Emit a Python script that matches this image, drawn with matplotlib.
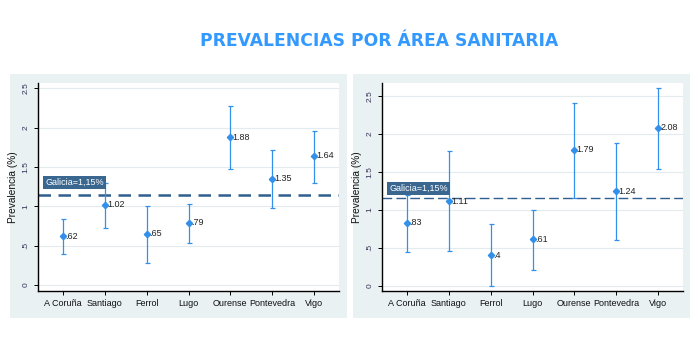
import matplotlib
matplotlib.use('Agg')
import matplotlib.pyplot as plt
from matplotlib.patches import Rectangle

areas = ['A Coruña', 'Santiago', 'Ferrol', 'Lugo', 'Ourense', 'Pontevedra', 'Vigo']

# panel izquierdo
prev1 = [0.62, 1.02, 0.65, 0.79, 1.88, 1.35, 1.64]
low1 = [0.40, 0.73, 0.28, 0.54, 1.48, 0.98, 1.29]
high1 = [0.84, 1.29, 1.00, 1.03, 2.27, 1.72, 1.96]

# panel derecho
prev2 = [0.83, 1.11, 0.40, 0.61, 1.79, 1.24, 2.08]
low2 = [0.44, 0.45, 0.00, 0.20, 1.16, 0.60, 1.54]
high2 = [1.19, 1.77, 0.81, 1.00, 2.41, 1.88, 2.60]

galicia = 1.15
yticks = [0, 0.5, 1, 1.5, 2, 2.5]
yticklabels = ['0', '.5', '1', '1.5', '2', '2.5']

W, H = 697, 338
blue = '#3390EA'
navy = '#2F5F8F'
bg = '#E9F1F3'

plt.rcParams['font.family'] = ['Liberation Sans', 'DejaVu Sans']

fig = plt.figure(figsize=(W / 100, H / 100), dpi=100)
fig.patch.set_facecolor('white')

# fondos grises de cada grafico
for x0, x1 in [(10, 347), (353, 690)]:
    fig.patches.append(Rectangle((x0 / W, 1 - 318 / H), (x1 - x0) / W, (318 - 74) / H,
                                 transform=fig.transFigure, facecolor=bg,
                                 edgecolor='none', zorder=-10))

fig.text(379 / W, 1 - 41 / H, 'PREVALENCIAS POR ÁREA SANITARIA', ha='center', va='center',
         fontsize=12.3, fontweight='bold', color='#3399FF', family='DejaVu Sans')


def fmt(v):
    s = '%g' % v
    if s.startswith('0.'):
        s = s[1:]
    return s


def panel(rect, prev, low, high, ylim, lw_line, dash, box_y):
    ax = fig.add_axes(rect)
    ax.set_zorder(1)
    ax.set_facecolor('white')
    x = list(range(1, len(areas) + 1))
    err = [[p - l for p, l in zip(prev, low)], [h - p for p, h in zip(prev, high)]]
    ax.errorbar(x, prev, yerr=err, fmt='D', color=blue, ms=3.2, elinewidth=0.9,
                capsize=1.8, capthick=0.9, zorder=3)
    for xi, p in zip(x, prev):
        ax.annotate(fmt(p), (xi, p), xytext=(1.8, 0), textcoords='offset points',
                    va='center', ha='left', fontsize=6.5, color='#222222', zorder=4)
    ax.axhline(galicia, color=navy, lw=lw_line, dashes=dash, zorder=2)
    ax.text(0.57, box_y, 'Galicia=1,15%', fontsize=6.5, color='white', va='center', ha='left',
            bbox=dict(boxstyle='square,pad=0.25', facecolor='#3A6790', edgecolor='none'),
            zorder=5)
    ax.set_xlim(0.4, 7.6)
    ax.set_ylim(*ylim)
    ax.set_xticks(x)
    ax.set_xticklabels(areas, fontsize=6.5, color='#111111')
    ax.set_yticks(yticks)
    ax.set_yticklabels(yticklabels, rotation=90, va='center', fontsize=6, color='#333355')
    ax.yaxis.grid(True, color='#E2EBEE', lw=0.8)
    ax.set_axisbelow(True)
    ax.tick_params(axis='both', length=3, width=0.7, pad=3)
    for s in ['top', 'right']:
        ax.spines[s].set_visible(False)
    for s in ['left', 'bottom']:
        ax.spines[s].set_linewidth(1.0)
    ax.set_ylabel('Prevalencia (%)', fontsize=7.3, color='#111111', labelpad=3)
    return ax


y0 = 1 - 291 / H
hgt = (291 - 83) / H
panel([38 / W, y0, 301 / W, hgt], prev1, low1, high1, (-0.076, 2.567), 1.8, (5, 3), 1.30)
panel([382 / W, y0, 301 / W, hgt], prev2, low2, high2, (-0.07, 2.667), 1.0, (7, 3), 1.28)

fig.savefig('out.png', dpi=100, facecolor='white')
